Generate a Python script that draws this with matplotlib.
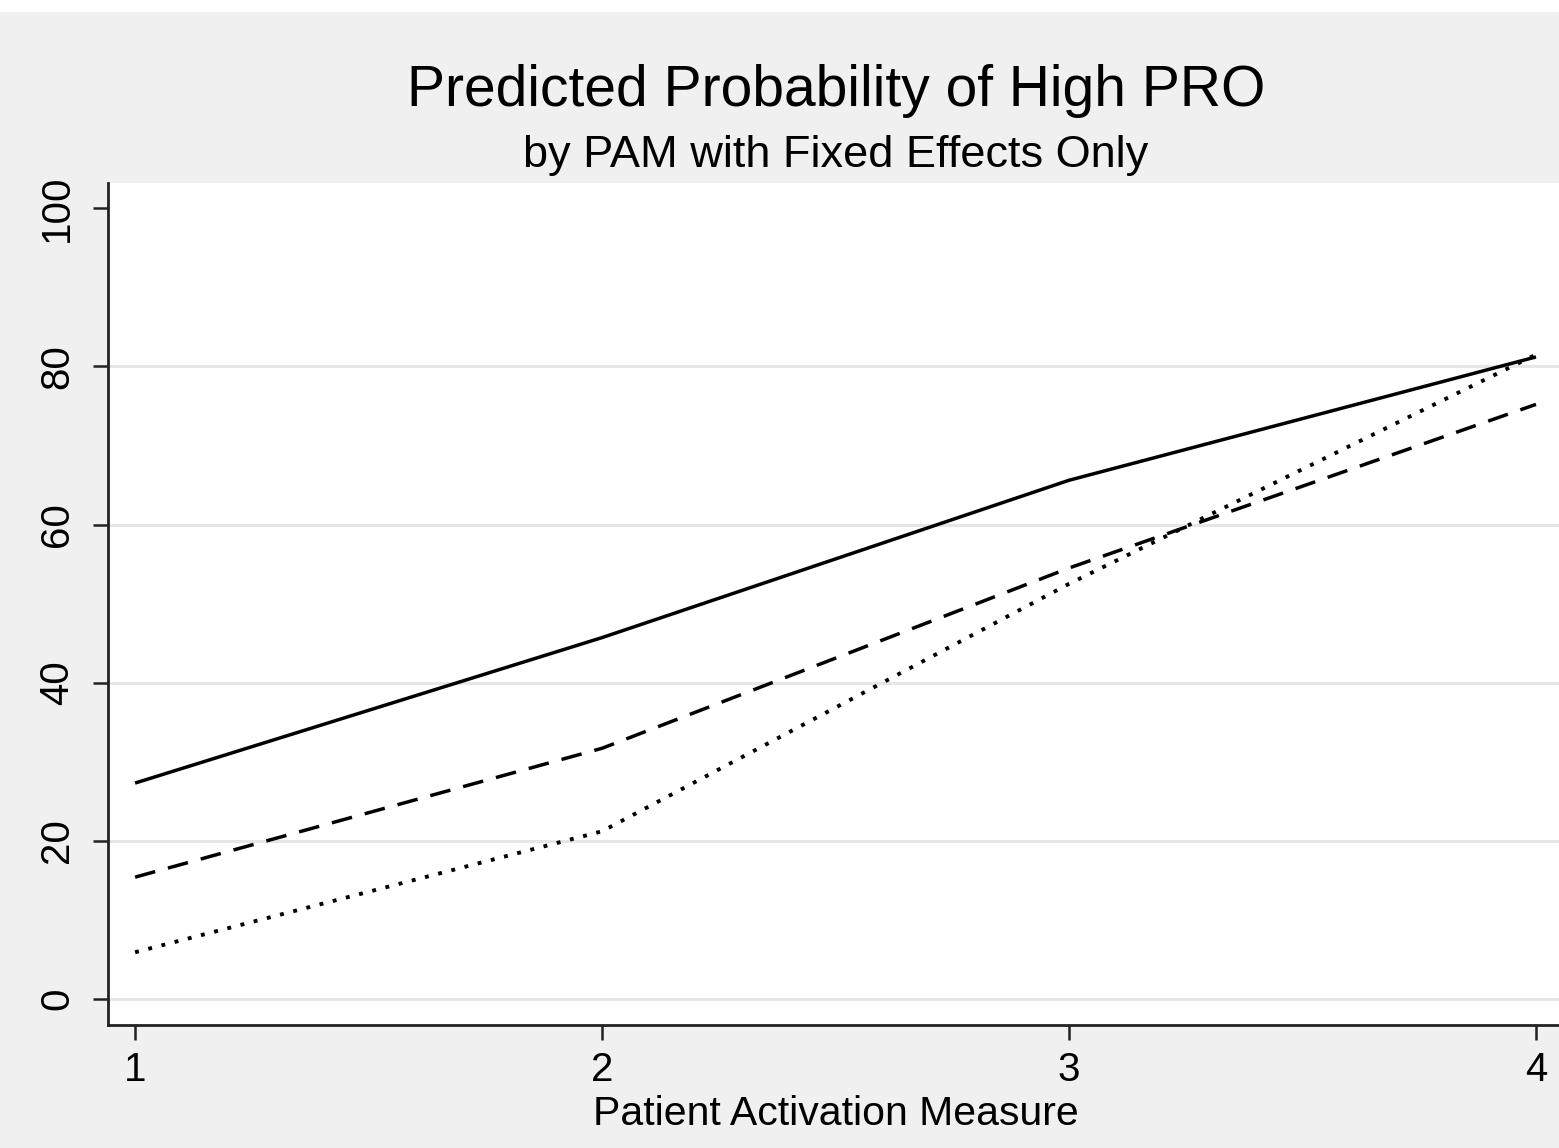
import matplotlib.pyplot as plt
from matplotlib.patches import Rectangle

plt.rcParams['font.family'] = ['Liberation Sans', 'DejaVu Sans']

# PAM level and predicted probabilities (%) for the three groups
pam = [1, 2, 3, 4]
prob_solid = [27.3, 45.7, 65.6, 81.2]
prob_dashed = [15.4, 31.7, 54.5, 75.2]
prob_dotted = [5.9, 21.2, 52.5, 81.5]

W, H = 1559, 1148
fig = plt.figure(figsize=(W / 100, H / 100), dpi=100, facecolor='#f0f0f0')
# thin white strip along the top edge
fig.patches.append(Rectangle((0, 1 - 12 / H), 1, 12 / H, transform=fig.transFigure,
                             facecolor='white', edgecolor='none', zorder=0))

left, right, top, bottom = 108, 1564, 183, 1025
ax = fig.add_axes([left / W, 1 - bottom / H, (right - left) / W, (bottom - top) / H])
ax.set_facecolor('white')

ax.plot(pam, prob_solid, color='black', lw=2.5, solid_capstyle='butt', zorder=3)
ax.plot(pam, prob_dashed, color='black', lw=2.5, linestyle=(0, (6, 3.8)),
        dash_capstyle='butt', zorder=3)
ax.plot(pam, prob_dotted, color='black', lw=2.8, linestyle=(0, (1.0, 2.5)),
        dash_capstyle='butt', zorder=3)

ax.set_xlim(0.942, 4.06)
ax.set_ylim(-3.3, 103.2)
ax.set_xticks(pam)
ax.set_yticks([0, 20, 40, 60, 80, 100])
for g in [0, 20, 40, 60, 80]:
    ax.axhline(g, color='#e6e6e6', lw=2.2, zorder=1)

for s in ['top', 'right']:
    ax.spines[s].set_visible(False)
for s in ['left', 'bottom']:
    ax.spines[s].set_linewidth(2.0)
    ax.spines[s].set_color('#222222')

ax.tick_params(axis='both', length=11, width=1.8, color='#222222', labelsize=29, pad=8)
ax.tick_params(axis='y', pad=12)
plt.setp(ax.get_yticklabels(), rotation=90, va='center')

ax.set_xlabel('Patient Activation Measure', fontsize=29.5, labelpad=4)

cx = (left + right) / 2 / W
fig.text(cx, 1 - 106 / H, 'Predicted Probability of High PRO', ha='center',
         va='baseline', fontsize=41)
fig.text(cx, 1 - 167 / H, 'by PAM with Fixed Effects Only', ha='center',
         va='baseline', fontsize=32.5)

fig.savefig('out.png', dpi=100, facecolor=fig.get_facecolor())
